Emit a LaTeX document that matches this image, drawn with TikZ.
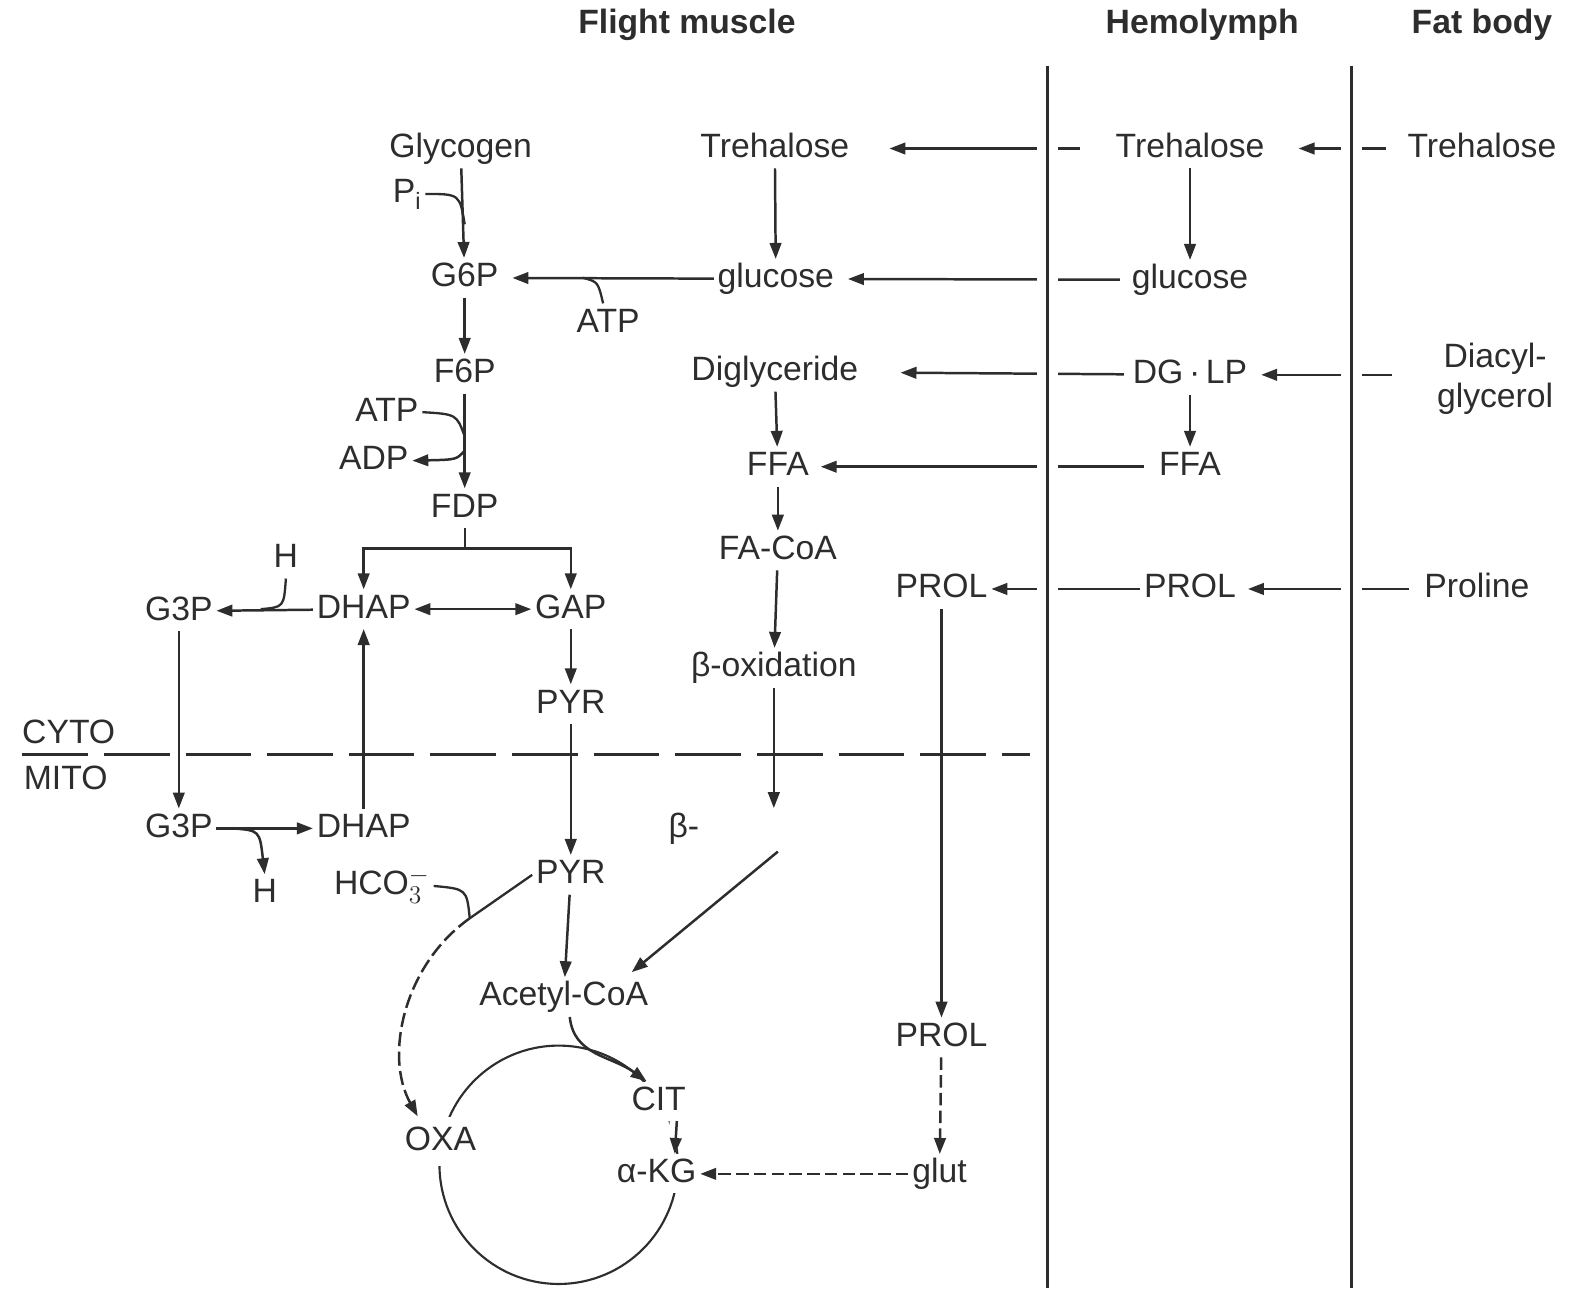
\documentclass[tikz,border=0pt]{standalone}
\usepackage{fontspec}
\setmainfont{Liberation Sans}
\usetikzlibrary{arrows.meta}
\definecolor{zink}{RGB}{45,45,45}

\begin{document}
\begin{tikzpicture}[x=0.02cm, y=-0.02cm,
  met/.style={inner sep=2pt, text height=14pt, text depth=4pt,
              font=\fontsize{19}{22}\selectfont, text=zink},
  hdr/.style={font=\fontsize{19}{22}\selectfont\bfseries, text=zink},
  arr/.style={-{Triangle[length=9pt, width=6.5pt]}, line width=1.4pt, zink},
  darr/.style={arr, {Triangle[length=9pt, width=6.5pt]}-{Triangle[length=9pt, width=6.5pt]}},
  co/.style={line width=1.3pt, zink},
  dsh/.style={arr, dash pattern=on 7pt off 3pt},
  memb/.style={line width=1.6pt, zink, preaction={draw=white, line width=12pt}},
  cyt/.style={line width=2pt, zink, dash pattern=on 37pt off 9pt}
]
\useasboundingbox (0,0) rectangle (1568,1275);

% citric acid cycle
\draw[co, line width=1.2pt] (553,1153) circle[radius=2.36cm];

\node[hdr] (fm) at (680,25)  {Flight muscle};
\node[hdr] (hl) at (1190,25) {Hemolymph};
\node[hdr] (fb) at (1467,25) {Fat body};

\node[met] (glyc) at (456,147)  {Glycogen};
\node[met] (trem) at (767,147)  {Trehalose};
\node[met] (treh) at (1178,147) {Trehalose};
\node[met] (tref) at (1467,147) {Trehalose};
\node[met] (pi)   at (403,192)  {P\textsubscript{i}};

\node[met] (g6p)  at (460,275)  {G6P};
\node[met] (glcm) at (768,276)  {glucose};
\node[met] (glch) at (1178,277) {glucose};
\node[met] (atpa) at (602,320)  {ATP};

\node[met] (f6p)  at (460,370)  {F6P};
\node[met] (dig)  at (767,368)  {Diglyceride};
\node[met] (dglp) at (1178,371) {DG\,·\,LP};
\node[font=\fontsize{19}{23}\selectfont, text=zink, align=center, inner sep=2pt]
  (diac) at (1480,375) {Diacyl-\\glycerol};
\node[met] (atpb) at (383,408)  {ATP};
\node[met] (adp)  at (370,456)  {ADP};

\node[met] (ffam) at (770,462)  {FFA};
\node[met] (ffah) at (1178,462) {FFA};
\node[met] (fdp)  at (460,503)  {FDP};
\node[met] (facoa) at (770,545) {FA-CoA};

\node[met] (prolm) at (932,583)  {PROL};
\node[met] (prolh) at (1178,583) {PROL};
\node[met] (prol)  at (1462,583) {Proline};
\node[met] (h1)    at (283,553)  {H};

\node[met] (g3pc)  at (177,605) {G3P};
\node[met] (dhapc) at (360,603) {DHAP};
\node[met] (gap)   at (565,603) {GAP};
\node[met] (box)   at (766,661) {β-oxidation};
\node[met] (pyrc)  at (565,697) {PYR};

\node[met] (cyto)  at (68,727)  {CYTO};
\node[met] (mito)  at (65,773)  {MITO};

\node[met] (g3pm)  at (177,820) {G3P};
\node[met] (dhapm) at (360,820) {DHAP};
\node[met] (beta)  at (677,820) {β-};
\node[met] (pyrm)  at (565,866) {PYR};
\node[met] (h2)    at (262,885) {H};
\node[met] (hco)   at (378,877) {HCO$_{3}^{-}$};
\node[met] (acoa)  at (558,987) {Acetyl-CoA};
\node[met] (prolmm) at (932,1027) {PROL};
\node[met, fill=white] (cit) at (652,1090) {CIT};
\node[met, fill=white, inner ysep=5pt] (oxa) at (436,1130) {OXA};
\node[met, fill=white] (akg) at (650,1162) {α-KG};
\node[met] (glut)  at (930,1162) {glut};

\coordinate (cpi)   at (460,222);
\coordinate (catp1) at (577,275);
\coordinate (catp2) at (460,432);
\coordinate (cadp)  at (460,446);
\coordinate (fsplit) at (460,543);
\coordinate (ch1)   at (258,603);
\coordinate (ch2)   at (230,820);
\coordinate (cbx)   at (768,800);
\coordinate (cbs)   at (770,843);
\coordinate (cjn)   at (465,909);

% cytosol / mitochondrion
\draw[cyt] (22,747) -- (1020,747);

% glycolysis
\draw[arr] (glyc) -- (g6p);
\draw[co] (pi.east) .. controls (455,192) .. (cpi);
\draw[arr, shorten >=0.2cm] (glcm) -- (g6p);
\draw[co] (catp1) .. controls (592,279) .. ([xshift=-0.1cm]atpa.north);
\draw[arr] (trem) -- (glcm);
\draw[arr] (g6p) -- (f6p);
\draw[arr] (f6p) -- (fdp);
\draw[co] (atpb.east) .. controls (452,410) .. (catp2);
\draw[arr] (cadp) .. controls (452,455) .. (adp.east);
\draw[co] (fdp.south) -- (fsplit);
\draw[arr] (fsplit) -| (dhapc.north);
\draw[arr] (fsplit) -| (gap.north);
\draw[darr] (dhapc) -- (gap);
\draw[arr] (dhapc) -- (g3pc);
\draw[co] (h1.south) .. controls (281,601) .. (ch1);
\draw[arr] (gap) -- (pyrc);
\draw[arr] (pyrc) -- (pyrm);

% glycerol-3-phosphate shuttle
\draw[arr] (g3pc) -- (g3pm);
\draw[arr] (g3pm) -- (dhapm);
\draw[arr] (ch2) .. controls (257,822) .. (h2.north);
\draw[arr] (dhapm) -- (dhapc);

% lipid and proline
\draw[arr] (dig) -- (ffam);
\draw[arr] (ffam) -- (facoa);
\draw[arr] (facoa) -- (box);
\draw[arr] (box.south) -- (box.south |- cbx);
\draw[arr] (cbs) -- ([shift={(-0.4cm,0.1cm)}]acoa.north east);
\draw[arr] (prolm) -- (prolmm);
\draw[dsh] (prolmm) -- (glut);
\draw[dsh] (glut) -- (akg);

% mitochondrion
\draw[co] (pyrm.west) -- (cjn);
\draw[co] (hco.east) .. controls (462,880) .. (cjn);
\draw[arr, dash pattern=on 8pt off 3pt] (cjn) .. controls (400,955) and (380,1045) .. ([xshift=-0.45cm]oxa.north);
\draw[arr] (pyrm) -- (acoa);
\draw[arr] ([xshift=0.12cm]acoa.south) .. controls (568,1045) and (605,1045) .. ([xshift=-0.24cm]cit.north);
\draw[arr, preaction={draw=white, line width=8pt}] ([xshift=0.36cm]cit.south) -- ([xshift=0.36cm]akg.north);

% hemolymph transport
\draw[arr] (treh) -- (glch);
\draw[arr] (dglp) -- (ffah);
\draw[arr, shorten <=0.62cm, shorten >=0.72cm] (treh) -- (trem);
\draw[arr, shorten <=0.36cm, shorten >=0.6cm] (tref) -- (treh);
\draw[arr, shorten <=0.16cm, shorten >=0.2cm] (glch) -- (glcm);
\draw[arr, shorten <=0.82cm, shorten >=0.2cm] (diac.west |- dglp) -- (dglp);
\draw[arr, shorten <=0.1cm, shorten >=0.76cm] (dglp) -- (dig);
\draw[arr, shorten <=0.22cm, shorten >=0.16cm] (ffah) -- (ffam);
\draw[arr, shorten <=0.22cm, shorten >=0.16cm] (prol) -- (prolh);
\draw[arr] (prolh) -- (prolm);

% membranes
\draw[memb] (1037,65) -- (1037,1275);
\draw[memb] (1338,65) -- (1338,1275);

\end{tikzpicture}
\end{document}
